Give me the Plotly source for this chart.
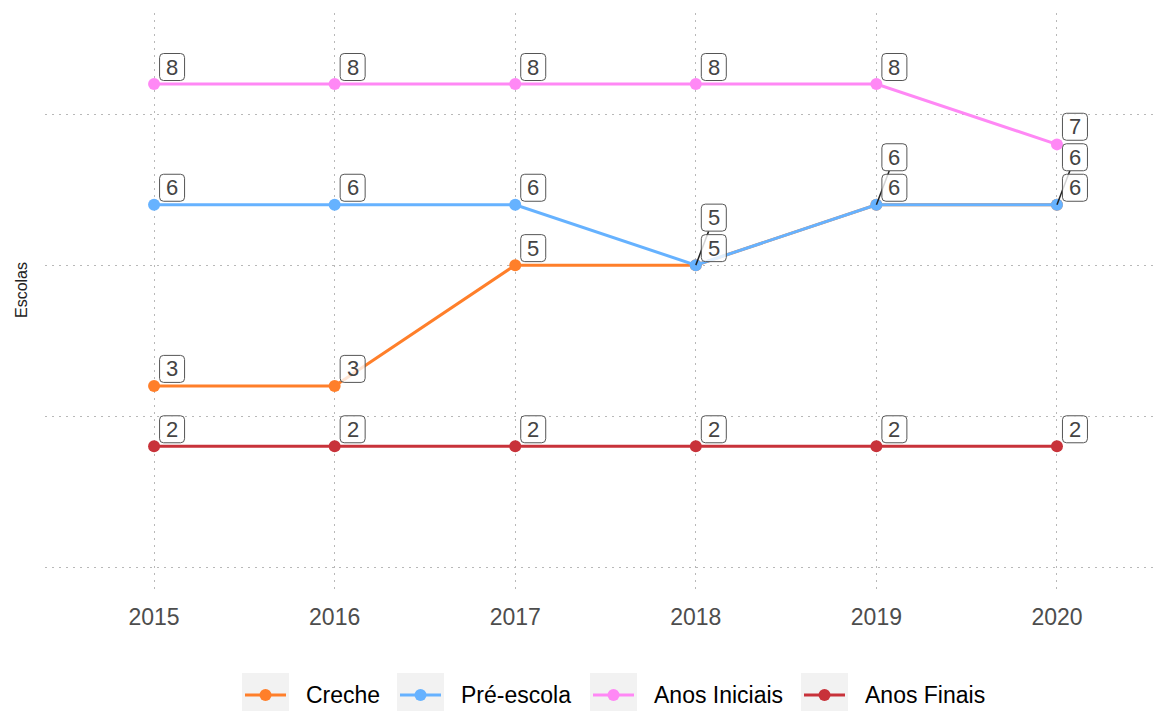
import plotly.graph_objects as go

# ---- data -------------------------------------------------------------
years = [2015, 2016, 2017, 2018, 2019, 2020]
series_names = ["Creche", "Pré-escola", "Anos Iniciais", "Anos Finais"]
creche = [3, 3, 5, 5, 6, 6]
pre_escola = [6, 6, 6, 5, 6, 6]
anos_iniciais = [8, 8, 8, 8, 8, 7]
anos_finais = [2, 2, 2, 2, 2, 2]
series_values = [creche, pre_escola, anos_iniciais, anos_finais]
series_colors = ["#FF7F2A", "#66B2FF", "#FF88F5", "#C8323A"]
y_title = "Escolas"

# ---- layout geometry --------------------------------------------------
W, H = 1157, 711
M_L, M_R, M_T, M_B = 45, 0, 13, 118
PLOT_W = W - M_L - M_R
PLOT_H = H - M_T - M_B
X_RANGE = [2014.396, 2020.554]
Y_RANGE = [-0.43, 9.176]
PX_PER_Y = PLOT_H / (Y_RANGE[1] - Y_RANGE[0])

FONT = "Liberation Sans, Arial, sans-serif"
GRID = dict(showgrid=True, gridcolor="#B8B8B8", griddash="2px,5px", gridwidth=1)

fig = go.Figure()

for name, vals, col in zip(series_names, series_values, series_colors):
    fig.add_trace(go.Scatter(
        x=years, y=vals, name=name, mode="lines+markers",
        line=dict(color=col, width=3),
        marker=dict(color=col, size=12),
        showlegend=False, hoverinfo="x+y+name",
    ))

# ---- repelled value labels ---------------------------------------------
DX = 18          # horizontal offset of label centre (px)
DY = 17          # default vertical offset of label centre (px, upwards)
BW, BH = 25, 27  # label box size
PITCH = 30.5     # minimum distance between stacked label centres
RAD = 4

def rounded_box(cx, cy, w, h, r):
    x0, x1 = cx - w / 2, cx + w / 2
    y0, y1 = cy - h / 2, cy + h / 2
    return (f"M{x0 + r},{y0} L{x1 - r},{y0} Q{x1},{y0} {x1},{y0 + r} "
            f"L{x1},{y1 - r} Q{x1},{y1} {x1 - r},{y1} L{x0 + r},{y1} "
            f"Q{x0},{y1} {x0},{y1 - r} L{x0},{y0 + r} Q{x0},{y0} {x0 + r},{y0} Z")

segments, boxes, texts = [], [], []
for i, yr in enumerate(years):
    entries = sorted(
        [(series_values[s][i], s) for s in range(len(series_names))],
        key=lambda e: (e[0], e[1]))
    prev_top = None  # pixel height (upwards) of the previous label centre
    for val, s in entries:
        base = val * PX_PER_Y
        centre = base + DY
        if prev_top is not None and centre < prev_top + PITCH:
            centre = prev_top + PITCH
        prev_top = centre
        dy = centre - base
        if dy > DY + 3:
            t = (dy - BH / 2) / dy
            segments.append(dict(
                type="line", xref="x", yref="y", xsizemode="pixel", ysizemode="pixel",
                xanchor=yr, yanchor=val, x0=0, y0=0, x1=DX * t, y1=dy * t,
                line=dict(color="#222222", width=1.5), layer="above"))
        boxes.append(dict(
            type="path", xref="x", yref="y", xsizemode="pixel", ysizemode="pixel",
            xanchor=yr, yanchor=val, path=rounded_box(DX, dy, BW, BH, RAD),
            fillcolor="rgba(255,255,255,0.8)", line=dict(color="#555555", width=1),
            layer="above"))
        texts.append(dict(
            x=yr, y=val, xref="x", yref="y", text=str(val), showarrow=False,
            xshift=DX, yshift=dy, font=dict(family=FONT, size=22, color="#444444"),
            xanchor="center", yanchor="middle"))

shapes = segments + boxes

# ---- legend (bottom, keys on grey squares) ------------------------------
def px2paper_x(px):
    return (px - M_L) / PLOT_W

def px2paper_y(py):
    return (H - M_B - py) / PLOT_H

key_left = [242, 397, 590, 801]
KEY_W = 47
LEG_TOP, LEG_BOT, LEG_MID = 673, 711, 695
annotations = list(texts)
for kx, name, col in zip(key_left, series_names, series_colors):
    shapes.append(dict(
        type="rect", xref="paper", yref="paper",
        x0=px2paper_x(kx), x1=px2paper_x(kx + KEY_W),
        y0=px2paper_y(LEG_BOT), y1=px2paper_y(LEG_TOP),
        fillcolor="#F2F2F2", line=dict(width=0), layer="below"))
    shapes.append(dict(
        type="line", xref="paper", yref="paper",
        x0=px2paper_x(kx + 3), x1=px2paper_x(kx + KEY_W - 3),
        y0=px2paper_y(LEG_MID), y1=px2paper_y(LEG_MID),
        line=dict(color=col, width=3), layer="above"))
    shapes.append(dict(
        type="circle", xref="paper", yref="paper",
        x0=px2paper_x(kx + KEY_W / 2 - 6), x1=px2paper_x(kx + KEY_W / 2 + 6),
        y0=px2paper_y(LEG_MID + 6), y1=px2paper_y(LEG_MID - 6),
        fillcolor=col, line=dict(width=0), layer="above"))
    annotations.append(dict(
        x=px2paper_x(kx + KEY_W + 15), y=px2paper_y(LEG_MID), xref="paper", yref="paper",
        text=name, showarrow=False, xanchor="left", yanchor="middle",
        font=dict(family=FONT, size=23, color="#000000")))

annotations.append(dict(
    x=px2paper_x(21), y=px2paper_y(290), xref="paper", yref="paper",
    text=y_title, showarrow=False, textangle=-90, xanchor="center", yanchor="middle",
    font=dict(family=FONT, size=16, color="#222222")))

fig.update_layout(
    width=W, height=H,
    margin=dict(l=M_L, r=M_R, t=M_T, b=M_B),
    paper_bgcolor="white", plot_bgcolor="white",
    font=dict(family=FONT),
    xaxis=dict(
        range=X_RANGE, tickmode="array", tickvals=years, ticktext=[str(y) for y in years],
        zeroline=False, showline=False, ticks="",
        tickfont=dict(family=FONT, size=23, color="#4D4D4D"),
        ticklabelstandoff=8, fixedrange=True, **GRID,
    ),
    yaxis=dict(
        range=Y_RANGE, tickmode="array", tickvals=[0, 2.5, 5, 7.5],
        showticklabels=False, zeroline=False, showline=False, ticks="",
        fixedrange=True, **GRID,
    ),
    shapes=shapes,
    annotations=annotations,
    showlegend=False,
)

fig.write_html("out.html")
